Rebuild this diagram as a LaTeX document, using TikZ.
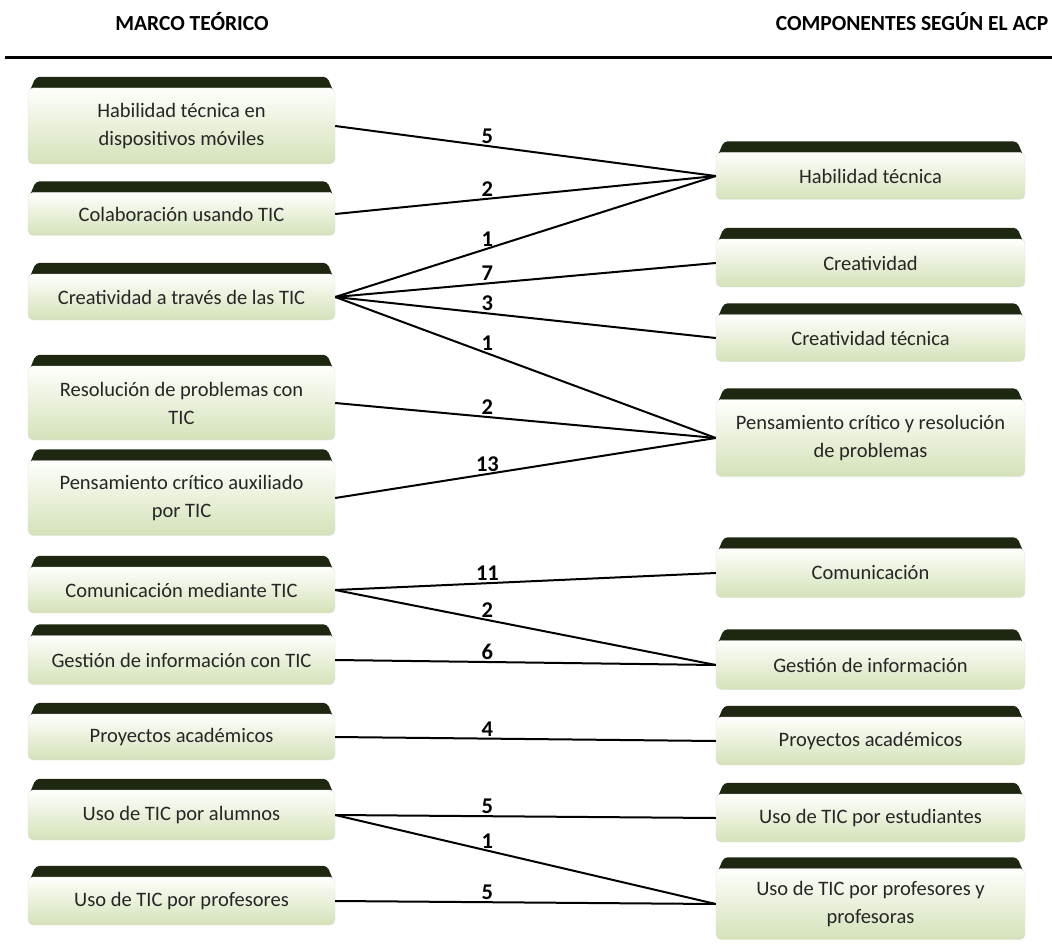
\documentclass[tikz,border=0pt]{standalone}
\usepackage{fontspec}
\setmainfont{Carlito}
\usetikzlibrary{positioning, backgrounds}
\definecolor{tabdark}{RGB}{30,40,16}
\definecolor{boxtop}{RGB}{254,255,252}
\definecolor{boxbottom}{RGB}{212,226,184}

\begin{document}
\begin{tikzpicture}[x=1pt, y=-1pt,
		concept/.style={rounded corners=5pt, top color=boxtop, bottom color=boxbottom,
			draw=black!12, align=center, inner sep=0pt, minimum width=307pt, text=black!85,
			font=\fontsize{20.5}{28}\selectfont},
		single/.style={concept, minimum height=46pt},
		double/.style={concept, minimum height=76pt},
		header/.style={font=\bfseries\fontsize{21.5}{24}\selectfont},
		link/.style={line width=2pt, black},
		weight/.style={above, inner sep=1.5pt, font=\bfseries\fontsize{22.5}{22}\selectfont}
	]
		\useasboundingbox (0,0) rectangle (1052,944);

		% headings
		\node[header] (hmarco) at (192,22) {MARCO TEÓRICO};
		\node[header] (hcomp) at (912,22) {COMPONENTES SEGÚN EL ACP};
		\draw[line width=3pt] (5,58) -- (1052,58);

		% marco teorico
		\node[double] (mhab) at (181.5,126) {Habilidad técnica en\\dispositivos móviles};
		\node[single, minimum height=43pt] (mcol) at (181.5,214) {Colaboración usando TIC};
		\node[single] (mcre) at (181.5,297) {Creatividad a través de las TIC};
		\node[double, minimum height=74pt] (mres) at (181.5,403) {Resolución de problemas con\\TIC};
		\node[double, minimum height=75pt] (mpen) at (181.5,498) {Pensamiento crítico auxiliado\\por TIC};
		\node[single] (mcom) at (181.5,590) {Comunicación mediante TIC};
		\node[single, minimum height=49pt] (mges) at (181.5,660) {Gestión de información con TIC};
		\node[single] (mpro) at (181.5,737) {Proyectos académicos};
		\node[single, minimum height=50pt] (malu) at (181.5,815) {Uso de TIC por alumnos};
		\node[single, minimum height=48pt] (mprf) at (181.5,901) {Uso de TIC por profesores};

		% componentes
		\node[single, minimum width=309pt, minimum height=47pt] (rhab) at (870.5,176) {Habilidad técnica};
		\node[single, minimum width=309pt, minimum height=48pt] (rcre) at (870.5,263) {Creatividad};
		\node[single, minimum width=309pt, minimum height=47pt] (rcrt) at (870.5,338) {Creatividad técnica};
		\node[double, minimum width=309pt, minimum height=77pt] (rpen) at (870.5,438) {Pensamiento crítico y resolución\\de problemas};
		\node[single, minimum width=309pt, minimum height=49pt] (rcom) at (870.5,573) {Comunicación};
		\node[single, minimum width=309pt, minimum height=49pt] (rges) at (870.5,665) {Gestión de información};
		\node[single, minimum width=309pt, minimum height=48pt] (rpro) at (870.5,741) {Proyectos académicos};
		\node[single, minimum width=309pt, minimum height=48pt] (rest) at (870.5,818) {Uso de TIC por estudiantes};
		\node[double, minimum width=309pt, minimum height=71pt] (rprf) at (870.5,904) {Uso de TIC por profesores y\\profesoras};

		% dark tabs on top of every box
		\begin{pgfonlayer}{background}
			\foreach \n in {mhab,mcol,mcre,mres,mpen,mcom,mges,mpro,malu,mprf,rhab,rcre,rcrt,rpen,rcom,rges,rpro,rest,rprf}
				\fill[tabdark, rounded corners=4pt] ([yshift=-8pt]\n.north west) -- ([xshift=8pt,yshift=11pt]\n.north west)
					-- ([xshift=-8pt,yshift=11pt]\n.north east) -- ([yshift=-8pt]\n.north east) -- cycle;
		\end{pgfonlayer}

		\foreach \a/\b/\w in {mhab/rhab/5,mcol/rhab/2,mcre/rhab/1,mcre/rcre/7,mcre/rcrt/3,mcre/rpen/1,
				mres/rpen/2,mpen/rpen/13,mcom/rcom/11,mcom/rges/2,mges/rges/6,mpro/rpro/4,
				malu/rest/5,malu/rprf/1,mprf/rprf/5}
			\draw[link] (\a.east) -- node[weight, pos=0.4] {\w} (\b.west);
	\end{tikzpicture}
\end{document}
